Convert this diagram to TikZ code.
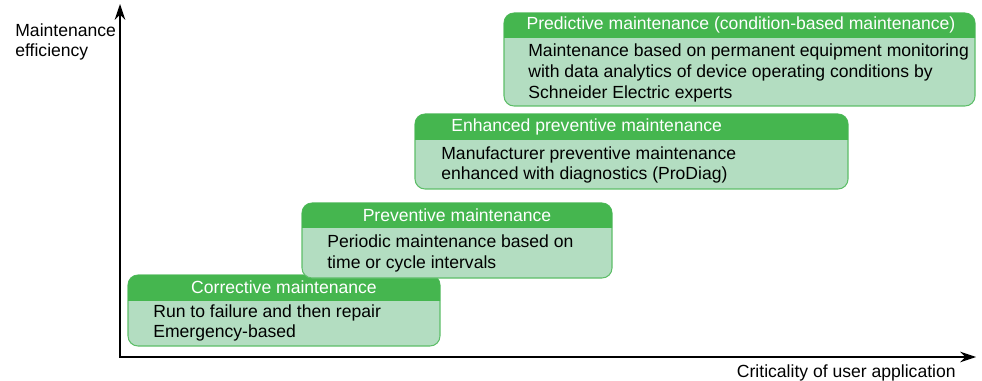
\documentclass[tikz,border=0pt]{standalone}
\usepackage{fontspec}
\setmainfont{Liberation Sans}
\usetikzlibrary{arrows.meta}
\definecolor{headgreen}{HTML}{45B64F}
\definecolor{bodygreen}{HTML}{B3DDC1}
\definecolor{edgegreen}{HTML}{5DBE68}

\begin{document}
\begin{tikzpicture}[x=0.02cm,y=-0.02cm,
  boxbody/.style={fill=bodygreen,draw=edgegreen,line width=0.6pt,rounded corners=0.2cm},
  boxhead/.style={fill=headgreen,rounded corners=0.2cm},
  headtext/.style={text=white,inner sep=0pt,font=\fontsize{10}{12}\selectfont},
  bodytext/.style={anchor=west,align=left,inner sep=0pt,font=\fontsize{10}{11.8}\selectfont},
  axis/.style={line width=0.9pt,{Stealth[length=9pt,width=6pt]}-{Stealth[length=9pt,width=6pt]}}]
\useasboundingbox (0,0) rectangle (982,381);

% axes
\coordinate (origin) at (120,357);
\coordinate (ytip) at (120,4);
\coordinate (xtip) at (976,357);
\draw[axis] (ytip) -- (origin) -- (xtip);
\node[anchor=west,align=left,inner sep=0pt,font=\fontsize{10}{11.8}\selectfont] (ylabel) at (15,42) {Maintenance\\efficiency};
\node[anchor=east,inner sep=0pt,font=\fontsize{10}{12}\selectfont] (xlabel) at (956,373) {Criticality of user application};

% boxes: left/top/right/bottom/header bottom
\foreach \xa/\ya/\xb/\yb/\yh in {128/275/440/346/300, 302/203/612/278/228, 415/114/848/189/140, 504/13/975/106/38}{
  \path[boxbody] (\xa,\ya) rectangle (\xb,\yb);
  \begin{scope}
    \clip (\xa-2,\ya-2) rectangle (\xb+2,\yh);
    \path[boxhead] (\xa,\ya) rectangle (\xb,\yb);
  \end{scope}
}

\node[headtext] (corr-head) at (284,287.5) {Corrective maintenance};
\node[bodytext] (corr-body) at (153,323) {Run to failure and then repair\\Emergency-based};

\node[headtext] (prev-head) at (457,215.5) {Preventive maintenance};
\node[bodytext] (prev-body) at (327,253.5) {Periodic maintenance based on\\time or cycle intervals};

\node[headtext,anchor=west] (enh-head) at (451,127) {Enhanced preventive maintenance};
\node[bodytext] (enh-body) at (441,165) {Manufacturer preventive maintenance\\enhanced with diagnostics (ProDiag)};

\node[headtext] (pred-head) at (741,25) {Predictive maintenance (condition-based maintenance)};
\node[bodytext] (pred-body) at (528,73) {Maintenance based on permanent equipment monitoring\\with data analytics of device operating conditions by\\Schneider Electric experts};
\end{tikzpicture}
\end{document}
